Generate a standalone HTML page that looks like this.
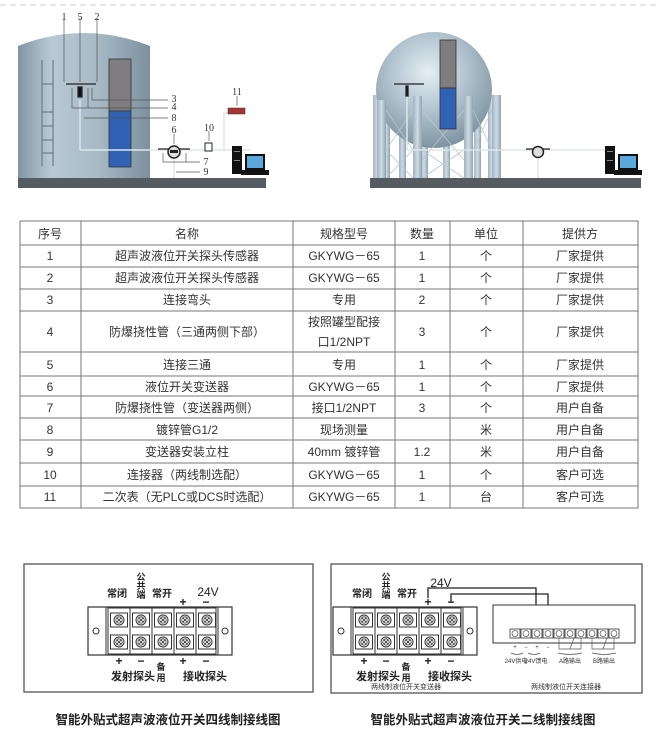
<!DOCTYPE html>
<html><head><meta charset="utf-8"><style>
html,body{margin:0;padding:0;background:#fff;}
svg{display:block;font-family:"Liberation Sans","Noto Sans CJK SC",sans-serif;}
</style></head><body>
<svg width="656" height="752" viewBox="0 0 656 752" xmlns="http://www.w3.org/2000/svg">
<defs>
<linearGradient id="tk" x1="0" x2="1" y1="0" y2="0">
<stop offset="0" stop-color="#7f95a3"/><stop offset="0.25" stop-color="#b8c9d3"/><stop offset="0.6" stop-color="#a8bac6"/><stop offset="1" stop-color="#7c909e"/></linearGradient>
<radialGradient id="sp" cx="0.45" cy="0.35" r="0.65">
<stop offset="0" stop-color="#e4eef4"/><stop offset="0.5" stop-color="#b2c4cf"/><stop offset="1" stop-color="#7f94a2"/></radialGradient>
<linearGradient id="leg" x1="0" x2="1"><stop offset="0" stop-color="#9fb3c0"/><stop offset="0.5" stop-color="#cfdce4"/><stop offset="1" stop-color="#8fa3b0"/></linearGradient>
<g id="scr"><rect x="-8.5" y="-7" width="17" height="14" fill="#fff" stroke="#333" stroke-width="1"/><circle r="5" fill="#fff" stroke="#333" stroke-width="1"/><circle r="3.2" fill="none" stroke="#333" stroke-width="0.8"/><path d="M-2.2,-2.2L2.2,2.2M-2.2,2.2L2.2,-2.2" stroke="#333" stroke-width="0.8"/></g>
<g id="blk">
<rect x="0" y="0" width="144" height="48" fill="#fff" stroke="#333" stroke-width="1.2"/>
<line x1="18" y1="0" x2="18" y2="48" stroke="#333"/><line x1="130" y1="0" x2="130" y2="48" stroke="#333"/>
<rect x="20" y="1" width="108" height="46" fill="none" stroke="#333"/>
<circle cx="8" cy="24" r="3" fill="#fff" stroke="#333"/><circle cx="137" cy="24" r="3" fill="#fff" stroke="#333"/>
<line x1="42" y1="1" x2="42" y2="47" stroke="#333"/><line x1="64" y1="1" x2="64" y2="47" stroke="#333"/><line x1="86" y1="1" x2="86" y2="47" stroke="#333"/><line x1="108" y1="1" x2="108" y2="47" stroke="#333"/>
<use href="#scr" x="31" y="13"/><use href="#scr" x="53" y="13"/><use href="#scr" x="75" y="13"/><use href="#scr" x="97" y="13"/><use href="#scr" x="119" y="13"/>
<use href="#scr" x="31" y="35"/><use href="#scr" x="53" y="35"/><use href="#scr" x="75" y="35"/><use href="#scr" x="97" y="35"/><use href="#scr" x="119" y="35"/>
</g>
<g id="pc"><rect x="0" y="0" width="10" height="28" fill="#111"/><rect x="2" y="5" width="6" height="1" fill="#888"/><rect x="2" y="14" width="6" height="1" fill="#888"/><rect x="13" y="8" width="20" height="16" fill="#111"/><rect x="15" y="10" width="16" height="12" fill="#5aa8dc"/><rect x="9" y="24" width="28" height="5" fill="#111"/></g>
</defs>

<line x1="0" y1="5" x2="656" y2="5" stroke="#ccc" stroke-dasharray="6,4"/>

<!-- left tank -->
<path d="M18,178 L18,46 Q84,20 150,46 L150,178 Z" fill="url(#tk)"/>
<rect x="18" y="178" width="248" height="10" fill="#555b60"/>
<g stroke="#6e8290" stroke-width="1.3" fill="none"><line x1="42" y1="60" x2="42" y2="166"/><line x1="53" y1="60" x2="53" y2="166"/>
<line x1="42" y1="84" x2="53" y2="84"/><line x1="42" y1="112" x2="53" y2="112"/><line x1="42" y1="126" x2="53" y2="126"/><line x1="42" y1="140" x2="53" y2="140"/><line x1="42" y1="153" x2="53" y2="153"/></g>
<rect x="109" y="59" width="22" height="52" fill="#7f7d7f" stroke="#333" stroke-width="0.8"/>
<rect x="109" y="111" width="22" height="56" fill="#2f62b4" stroke="#333" stroke-width="0.8"/>
<g stroke="#dde6ea" stroke-width="1.5" fill="none"><line x1="80" y1="100" x2="80" y2="150"/><path d="M80,150 L250,150"/><path d="M224,150 L224,113 L232,113"/><line x1="174" y1="158" x2="174" y2="178"/></g>
<g stroke="#222" stroke-width="1.2"><line x1="66" y1="84" x2="96" y2="84"/><rect x="78" y="87" width="4" height="10" fill="#111"/><line x1="158" y1="149" x2="190" y2="149"/></g>
<circle cx="174" cy="152" r="6" fill="#ddd" stroke="#222" stroke-width="1.5"/><rect x="170" y="150" width="8" height="3" fill="#222"/>
<rect x="205" y="143" width="7" height="8" fill="#fff" stroke="#222"/>
<rect x="228" y="108" width="17" height="6" fill="#a33" stroke="#333" stroke-width="0.5"/>
<use href="#pc" x="232" y="146"/>
<g stroke="#555" stroke-width="0.7" fill="none"><line x1="64" y1="18" x2="64" y2="82"/><line x1="80" y1="18" x2="80" y2="82"/><line x1="97" y1="18" x2="97" y2="82"/>
<line x1="92" y1="88" x2="92" y2="100" /><line x1="92" y1="100" x2="168" y2="100"/><path d="M72,88 L72,108 L168,108 M88,88 L88,108"/><line x1="84" y1="118" x2="168" y2="118"/>
<path d="M163,153 L163,162 L200,162 M186,153 L186,162"/><line x1="176" y1="172" x2="200" y2="172"/><line x1="174" y1="134" x2="174" y2="144"/><line x1="209" y1="131" x2="209" y2="141"/><line x1="237" y1="96" x2="237" y2="106"/></g>
<g font-family="Liberation Serif,serif" font-size="10" fill="#333" text-anchor="middle">
<text x="64" y="20">1</text><text x="80" y="20">5</text><text x="97" y="20">2</text>
<text x="174" y="102">3</text><text x="174" y="110">4</text><text x="174" y="121">8</text><text x="174" y="133">6</text>
<text x="209" y="131">10</text><text x="237" y="95">11</text><text x="206" y="165">7</text><text x="206" y="175">9</text></g>

<!-- right sphere -->
<g fill="url(#leg)"><rect x="373" y="95" width="8" height="83"/><rect x="382" y="100" width="8" height="78"/><rect x="420" y="98" width="8" height="80"/><rect x="464" y="98" width="8" height="80"/><rect x="488" y="95" width="8" height="83"/><rect x="474" y="120" width="7" height="58"/><rect x="399" y="120" width="7" height="58"/><rect x="443" y="130" width="7" height="48"/></g>
<circle cx="434" cy="90" r="58" fill="url(#sp)"/>
<g fill="url(#leg)"><rect x="377" y="100" width="9" height="78"/><rect x="413" y="96" width="9" height="82"/><rect x="464" y="96" width="9" height="82"/><rect x="492" y="95" width="9" height="83"/></g>
<g stroke="#b9c7cf" stroke-width="0.8"><path d="M386,110L413,150M413,110L386,150M422,110L464,160M464,110L422,160M473,110L492,150M492,110L473,150M386,150L413,178M413,150L386,178M422,150L464,178M464,150L422,178"/></g>
<rect x="370" y="178" width="271" height="10" fill="#555b60"/>
<rect x="440" y="40" width="16" height="48" fill="#7f7d7f" stroke="#333" stroke-width="0.8"/>
<rect x="440" y="88" width="16" height="41" fill="#2f62b4" stroke="#333" stroke-width="0.8"/>
<g stroke="#dde6ea" stroke-width="1.5" fill="none"><line x1="407" y1="88" x2="407" y2="150"/><line x1="407" y1="150" x2="606" y2="150"/><line x1="538" y1="156" x2="538" y2="178"/></g>
<g stroke="#222" stroke-width="1.3"><line x1="394" y1="84" x2="424" y2="84"/><rect x="406" y="86" width="2" height="10" fill="#111"/><line x1="526" y1="149" x2="550" y2="149"/></g>
<circle cx="538" cy="152" r="5.5" fill="#ddd" stroke="#222" stroke-width="1.5"/>
<use href="#pc" x="605" y="146"/>

<!-- table -->
<g stroke="#777" stroke-width="1" fill="none">
<rect x="20" y="221" width="618" height="287"/>
<path d="M20,245H638M20,267H638M20,289H638M20,311H638M20,352H638M20,376H638M20,396H638M20,418H638M20,440H638M20,463H638M20,486H638"/>
<path d="M81,221V508M293,221V508M395,221V508M450,221V508M523,221V508"/>
</g>
<g font-size="12" fill="#333" text-anchor="middle">
<text x="50" y="238">序号</text><text x="187" y="238">名称</text><text x="344" y="238">规格型号</text><text x="422" y="238">数量</text><text x="486" y="238">单位</text><text x="580" y="238">提供方</text>
<text x="50" y="260">1</text><text x="187" y="260">超声波液位开关探头传感器</text><text x="344" y="260">GKYWG－65</text><text x="422" y="260">1</text><text x="486" y="260">个</text><text x="580" y="260">厂家提供</text>
<text x="50" y="282">2</text><text x="187" y="282">超声波液位开关探头传感器</text><text x="344" y="282">GKYWG－65</text><text x="422" y="282">1</text><text x="486" y="282">个</text><text x="580" y="282">厂家提供</text>
<text x="50" y="304">3</text><text x="187" y="304">连接弯头</text><text x="344" y="304">专用</text><text x="422" y="304">2</text><text x="486" y="304">个</text><text x="580" y="304">厂家提供</text>
<text x="50" y="336">4</text><text x="187" y="336">防爆挠性管（三通两侧下部）</text><text x="344" y="326">按照罐型配接</text><text x="344" y="346">口1/2NPT</text><text x="422" y="336">3</text><text x="486" y="336">个</text><text x="580" y="336">厂家提供</text>
<text x="50" y="369">5</text><text x="187" y="369">连接三通</text><text x="344" y="369">专用</text><text x="422" y="369">1</text><text x="486" y="369">个</text><text x="580" y="369">厂家提供</text>
<text x="50" y="391">6</text><text x="187" y="391">液位开关变送器</text><text x="344" y="391">GKYWG－65</text><text x="422" y="391">1</text><text x="486" y="391">个</text><text x="580" y="391">厂家提供</text>
<text x="50" y="412">7</text><text x="187" y="412">防爆挠性管（变送器两侧）</text><text x="344" y="412">接口1/2NPT</text><text x="422" y="412">3</text><text x="486" y="412">个</text><text x="580" y="412">用户自备</text>
<text x="50" y="434">8</text><text x="187" y="434">镀锌管G1/2</text><text x="344" y="434">现场测量</text><text x="486" y="434">米</text><text x="580" y="434">用户自备</text>
<text x="50" y="456">9</text><text x="187" y="456">变送器安装立柱</text><text x="344" y="456">40mm 镀锌管</text><text x="422" y="456">1.2</text><text x="486" y="456">米</text><text x="580" y="456">用户自备</text>
<text x="50" y="479">10</text><text x="187" y="479">连接器（两线制选配）</text><text x="344" y="479">GKYWG－65</text><text x="422" y="479">1</text><text x="486" y="479">个</text><text x="580" y="479">客户可选</text>
<text x="50" y="501">11</text><text x="187" y="501">二次表（无PLC或DCS时选配）</text><text x="344" y="501">GKYWG－65</text><text x="422" y="501">1</text><text x="486" y="501">台</text><text x="580" y="501">客户可选</text>
</g>

<!-- bottom boxes -->
<rect x="24" y="564" width="289" height="128" fill="#fff" stroke="#555" stroke-width="1.3"/>
<rect x="331" y="564" width="311" height="129" fill="#fff" stroke="#555" stroke-width="1.3"/>
<use href="#blk" x="88" y="607"/>
<use href="#blk" x="333" y="607"/>
<g font-size="10" font-weight="bold" fill="#222" text-anchor="middle">
<g id="lbl">
<text x="117" y="597">常闭</text>
<text x="141" y="580" font-size="9">公</text><text x="141" y="589" font-size="9">共</text><text x="141" y="598" font-size="9">端</text>
<text x="162" y="597">常开</text>
<text x="183" y="606" font-size="12">+</text><text x="206" y="606" font-size="12">−</text>
<text x="119" y="665" font-size="12">+</text><text x="141" y="665" font-size="12">−</text>
<text x="183" y="665" font-size="12">+</text><text x="206" y="665" font-size="12">−</text>
<text x="133" y="680" font-size="11">发射探头</text>
<text x="161" y="670" font-size="9">备</text><text x="161" y="681" font-size="9">用</text>
<text x="205" y="680" font-size="11">接收探头</text>
</g>
<text x="208" y="596" font-size="12" font-weight="normal">24V</text>
<use href="#lbl" x="245"/>
<text x="441" y="587" font-size="12" font-weight="normal">24V</text>
</g>
<g stroke="#222" stroke-width="1.3" fill="none"><path d="M428,598V588H536V630"/><path d="M451,603V594H548V630"/></g>
<rect x="493" y="605" width="142" height="38" fill="#fff" stroke="#333" stroke-width="1"/>
<g fill="#fff" stroke="#333" stroke-width="0.8">
<rect x="510" y="629" width="10" height="9"/><rect x="521" y="629" width="10" height="9"/><rect x="532" y="629" width="10" height="9"/><rect x="543" y="629" width="10" height="9"/><rect x="554" y="629" width="10" height="9"/><rect x="565" y="629" width="10" height="9"/><rect x="576" y="629" width="10" height="9"/><rect x="587" y="629" width="10" height="9"/><rect x="598" y="629" width="10" height="9"/><rect x="609" y="629" width="10" height="9"/></g>
<g fill="none" stroke="#333" stroke-width="0.6">
<circle cx="515" cy="633.5" r="3"/><circle cx="526" cy="633.5" r="3"/><circle cx="537" cy="633.5" r="3"/><circle cx="548" cy="633.5" r="3"/><circle cx="559" cy="633.5" r="3"/><circle cx="570" cy="633.5" r="3"/><circle cx="581" cy="633.5" r="3"/><circle cx="592" cy="633.5" r="3"/><circle cx="603" cy="633.5" r="3"/><circle cx="614" cy="633.5" r="3"/></g>
<g stroke="#555" stroke-width="0.7" fill="none"><path d="M559,638V649H570L574,638M581,638V649H570M592,638V649H603L607,638M614,638V649H603M511,653q6,3 12,0M528,653q6,3 12,0M558,653q12,3 24,0M592,653q12,3 24,0"/></g>
<g font-size="6" fill="#333" text-anchor="middle">
<text x="515" y="649">+</text><text x="526" y="649">−</text><text x="537" y="649">+</text><text x="548" y="649">−</text>
<text x="516" y="663">24V供电</text><text x="536" y="663">24V馈电</text><text x="570" y="663">A路输出</text><text x="604" y="663">B路输出</text>
<text x="406" y="689" font-size="7">两线制液位开关变送器</text><text x="566" y="689" font-size="7">两线制液位开关连接器</text>
</g>
<g font-size="12.5" fill="#222" font-weight="bold" text-anchor="middle">
<text x="168" y="724">智能外贴式超声波液位开关四线制接线图</text>
<text x="483" y="724">智能外贴式超声波液位开关二线制接线图</text>
</g>
</svg>
</body></html>
